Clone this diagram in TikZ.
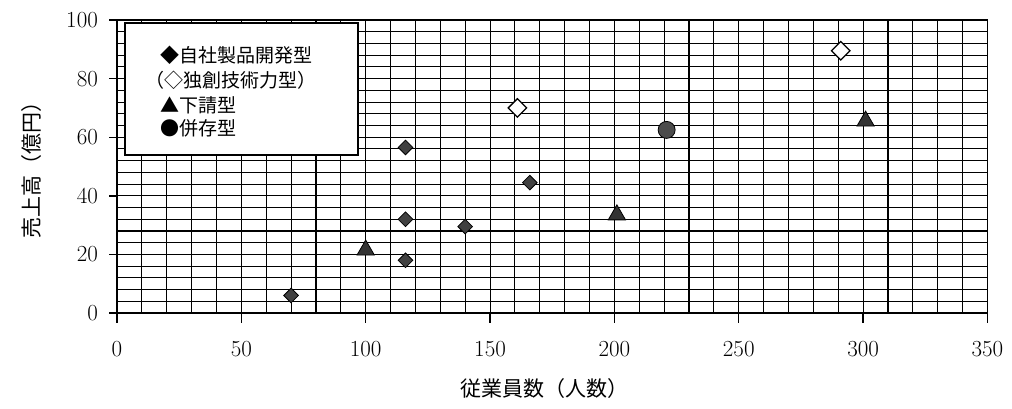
\documentclass[tikz,border=0pt]{standalone}
\usepackage{fontspec}
\newfontfamily\jp{Noto Sans CJK JP}
\usetikzlibrary{shapes.geometric}
\tikzstyle{gridline} = [draw, line width=1.1pt]
\tikzstyle{frame} = [draw, line width=1.4pt]
\tikzstyle{own} = [diamond, draw, fill=black!75, line width=0.8pt,
    inner sep=0pt, minimum size=15pt]
\tikzstyle{unique} = [diamond, draw, fill=white, line width=1.3pt,
    inner sep=0pt, minimum size=19pt]
\tikzstyle{sub} = [regular polygon, regular polygon sides=3, draw, fill=black!80,
    line width=0.8pt, inner sep=0pt, minimum size=20pt]
\tikzstyle{mixed} = [circle, draw, fill=black!70, line width=0.8pt,
    inner sep=0pt, minimum size=17pt]
\tikzstyle{ticklabel} = [font=\fontsize{23pt}{25pt}\selectfont, inner sep=0pt]
\tikzstyle{legendtext} = [font=\jp\fontsize{19pt}{21pt}\selectfont, anchor=west, inner sep=0pt]

\begin{document}
\begin{tikzpicture}[x=2.487pt, y=2.93pt]
    \useasboundingbox (-47.04,-32.42) rectangle (359.87,106.83);
    % Grid
    \foreach \gx in {10,20,...,340}
        \draw [gridline] (\gx,0) -- (\gx,100);
    \foreach \gy in {4,8,...,96}
        \draw [gridline] (0,\gy) -- (350,\gy);
    \draw [frame] (0,0) rectangle (350,100);
    % Ticks and labels
    \foreach \tx in {0,50,...,350} {
        \draw [frame] (\tx,0) -- (\tx,-3.5);
        \node [ticklabel] (xt\tx) at (\tx,-12.3) {\tx};
    }
    \foreach \ty in {0,20,...,100} {
        \draw [frame] (0,\ty) -- (-3.2,\ty);
        \node [ticklabel, anchor=east] (yt\ty) at (-7.6,\ty) {\ty};
    }
    \node [font=\jp\fontsize{21pt}{23pt}\selectfont] (xtitle) at (172,-25.9) {従業員数（人数）};
    \node [font=\jp\fontsize{21pt}{23pt}\selectfont, rotate=90] (ytitle) at (-34.2,50.5) {売上高（億円）};
    % Legend
    \node [draw, fill=white, line width=1.2pt, minimum width=233pt, minimum height=132pt]
        (legend) at (50.06,76.45) {};
    \node [legendtext] (lgown) at (17.3,88.05) {◆自社製品開発型};
    \node [legendtext] (lgunique) at (11.3,79.5) {（◇独創技術力型）};
    \node [legendtext] (lgsub) at (17.3,71.0) {▲下請型};
    \node [legendtext] (lgmixed) at (17.3,63.1) {●併存型};
    % Place points
    \node [own] (own1) at (70,6) {};
    \node [own] (own2) at (116,18) {};
    \node [own] (own3) at (116,32) {};
    \node [own] (own4) at (116,56.5) {};
    \node [own] (own5) at (140,29.5) {};
    \node [own] (own6) at (166,44.5) {};
    \node [unique] (unique1) at (161,70) {};
    \node [unique] (unique2) at (291,89.5) {};
    \node [sub] (sub1) at (100,21.5) {};
    \node [sub] (sub2) at (201,33.5) {};
    \node [sub] (sub3) at (301,65.5) {};
    \node [mixed] (mixed1) at (221,62.5) {};
\end{tikzpicture}
\end{document}
